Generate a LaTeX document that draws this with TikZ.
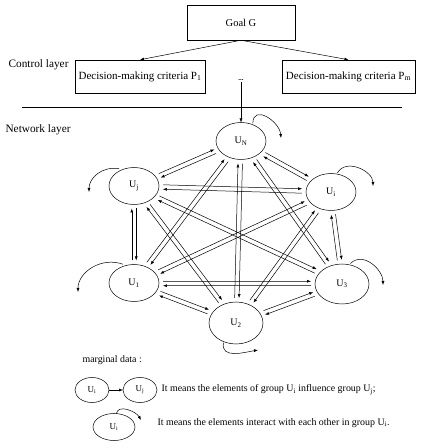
\documentclass[tikz,border=0pt]{standalone}
\usepackage{fontspec}
\setmainfont{Liberation Serif}
\usetikzlibrary{shapes.geometric,calc,arrows.meta}

\tikzset{
  box/.style={draw, minimum height=33pt, inner sep=2pt, font=\fontsize{11}{13}\selectfont},
  group/.style={draw, ellipse, minimum width=50pt, minimum height=37pt,
    inner sep=0pt, outer sep=4pt, font=\fontsize{10}{12}\selectfont},
  small group/.style={group, minimum width=34pt, minimum height=25pt, outer sep=0pt,
    font=\fontsize{9}{11}\selectfont},
  selfloop/.style={->, shorten <=-3pt},
  layer/.style={anchor=west, font=\fontsize{11.3}{13}\selectfont},
  legend/.style={anchor=west, font=\fontsize{9.9}{12}\selectfont},
}

\begin{document}
\begin{tikzpicture}[x=1pt, y=1pt, line width=0.5pt, >={Latex[length=4pt,width=3pt]}]
  \useasboundingbox (0,0) rectangle (443,448);
  % control layer
  \node[box, minimum width=108pt, minimum height=35pt, font=\fontsize{10.5}{12}\selectfont] (goal) at (241,425.5) {Goal G};
  \node[box, minimum width=130pt] (P1) at (140,371.5) {Decision-making criteria P\textsubscript{1}};
  \node[box, minimum width=133pt] (Pm) at (348.5,371.5) {Decision-making criteria P\textsubscript{m}};
  \node[layer] (control) at (5,383) {Control layer};
  \node[font=\fontsize{7}{8}\selectfont\bfseries, inner sep=1pt] (dots) at (241,368) {...};
  \draw[->] (goal.south) -- (P1.north);
  \draw[->] (goal.south) -- (Pm.north);
  \coordinate (sepL) at (22,341);
  \coordinate (sepR) at (402,341);
  \draw (sepL) -- (sepR);
  % network layer
  \node[layer] (network) at (2,318) {Network layer};
  \node[group] (UN) at (241,307) {U\textsubscript{N}};
  \node[group] (Uj) at (134,262) {U\textsubscript{j}};
  \node[group] (Ui) at (331,256) {U\textsubscript{i}};
  \node[group] (U1) at (134,165) {U\textsubscript{1}};
  \node[group, minimum width=54pt, minimum height=42pt] (U2) at (236,125) {U\textsubscript{2}};
  \node[group, minimum width=54pt, minimum height=40pt] (U3) at (342,164) {U\textsubscript{3}};
  \draw[->, shorten >=-4pt] (dots) -- (UN);
  \foreach \a/\b in {UN/Uj,UN/Ui,UN/U1,UN/U2,UN/U3,Uj/Ui,Uj/U1,Uj/U2,Uj/U3,
                     Ui/U1,Ui/U2,Ui/U3,U1/U2,U1/U3,U2/U3}{
    \pgfmathanglebetweenpoints{\pgfpointanchor{\a}{center}}{\pgfpointanchor{\b}{center}}
    \let\ang\pgfmathresult
    \pgfmathsetmacro\back{\ang+180}
    \draw[->] ($(\a.\ang)+(\ang+90:2.2pt)$) -- ($(\b.\back)+(\ang+90:2.2pt)$);
    \draw[->] ($(\b.\back)+(\ang-90:2.2pt)$) -- ($(\a.\ang)+(\ang-90:2.2pt)$);
  }
  % self loops
  \coordinate (UNloop) at (281,310);
  \coordinate (Ujloop) at (89,256);
  \coordinate (Uiloop) at (373,262);
  \coordinate (U1loop) at (78,156);
  \coordinate (U3loop) at (383,163);
  \coordinate (U2loop) at (258,98);
  \draw[selfloop] (UN.60) to[out=90, in=95, looseness=1.3] (UNloop);
  \draw[selfloop] (Uj.135) to[out=170, in=90] (Ujloop);
  \draw[selfloop] (Ui.70) to[out=60, in=90] (Uiloop);
  \draw[selfloop] (U1.125) to[out=160, in=90] (U1loop);
  \draw[selfloop] (U3.65) to[out=45, in=90] (U3loop);
  \draw[selfloop] (U2.240) to[out=-100, in=190] (U2loop);
  % marginal data
  \node[legend] (marginal) at (79,88) {marginal data :};
  \node[small group] (Li) at (92,58) {U\textsubscript{i}};
  \node[small group] (Lj) at (140,58) {U\textsubscript{j}};
  \draw[->] (Li) -- (Lj);
  \node[legend] (influence) at (158,58) {It means the elements of group U\textsubscript{i} influence group U\textsubscript{j};};
  \node[small group, minimum width=42pt, minimum height=27pt] (Lk) at (114,21) {U\textsubscript{i}};
  \coordinate (Lkloop) at (141,28);
  \draw[selfloop, shorten <=0pt] (Lk.80) to[out=80, in=120] (Lkloop);
  \node[legend] (interact) at (154,25) {It means the elements interact with each other in group U\textsubscript{i}.};
\end{tikzpicture}
\end{document}
